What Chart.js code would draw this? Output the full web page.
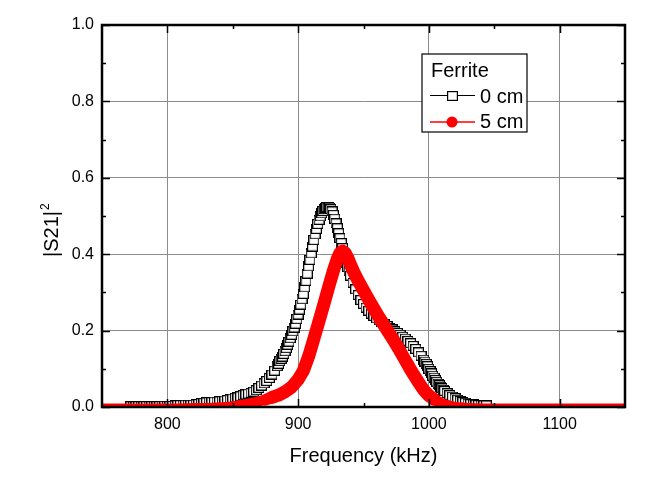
<!DOCTYPE html>
<html>
<head>
<meta charset="utf-8">
<script src="https://cdn.jsdelivr.net/npm/chart.js@4.4.1/dist/chart.umd.min.js"></script>
<style>
  html, body { margin: 0; padding: 0; background: #fff; }
  #wrap { width: 656px; height: 485px; }
</style>
</head>
<body>
<div id="wrap"><canvas id="chart" width="656" height="485"></canvas></div>
<script>
'use strict';

// Ferrite 0 cm (open squares); sampled finer where the curve is steep
var freq0 = [
	772, 774, 776, 778, 780, 782, 784, 786, 788, 790, 792, 794,
	796, 798, 800, 802, 804, 806,
	808, 810, 812, 814, 816, 818, 820, 822, 824,
	826, 828, 830, 832, 834, 836, 838, 840, 842, 844, 846,
	848, 850, 852, 854, 856, 858, 860, 862, 864, 866,
	868, 870, 872, 874, 876, 878, 880, 882, 884,
	885, 886, 887, 888, 889, 890, 891, 892, 893, 894, 895, 896, 897, 898, 899,
	900, 901, 902, 903, 904, 905, 906, 907, 908, 909, 910, 911, 912, 913, 914, 915, 916, 917, 918, 919,
	920, 921, 922, 923, 924, 925, 926, 927, 928, 929, 930, 931, 932, 933, 934, 935, 936, 937, 938, 939,
	940, 942, 944, 946, 948, 950, 952, 954, 956, 958, 960, 962,
	964, 966, 968, 970, 972, 974, 976, 978, 980, 982, 984, 986, 988, 990, 992, 994, 996,
	997, 998, 999, 1000, 1001, 1002, 1003, 1004, 1005, 1006, 1007, 1008, 1009, 1010, 1011,
	1012, 1014, 1016, 1018, 1020, 1022, 1024, 1026, 1028,
	1030, 1032, 1034, 1036, 1038, 1040, 1042, 1044
];
var s21Cm0 = [
	0.002, 0.002, 0.002, 0.002, 0.002, 0.002, 0.002, 0.002, 0.002, 0.002, 0.002, 0.002,
	0.003, 0.003, 0.003, 0.003, 0.003, 0.004,
	0.005, 0.005, 0.005, 0.006, 0.006, 0.006, 0.006, 0.007, 0.008,
	0.010, 0.011, 0.012, 0.013, 0.013, 0.014, 0.014, 0.015, 0.016, 0.017, 0.018,
	0.020, 0.022, 0.024, 0.025, 0.028, 0.031, 0.033, 0.035, 0.037, 0.040,
	0.044, 0.050, 0.056, 0.062, 0.068, 0.076, 0.085, 0.095, 0.107,
	0.113, 0.120, 0.126, 0.132, 0.139, 0.146, 0.154, 0.163, 0.171, 0.180, 0.189, 0.198, 0.208, 0.218, 0.230,
	0.242, 0.255, 0.268, 0.282, 0.296, 0.313, 0.330, 0.349, 0.368, 0.385, 0.402, 0.420, 0.437, 0.452, 0.466, 0.479, 0.490, 0.499, 0.507, 0.513,
	0.518, 0.521, 0.523, 0.523, 0.522, 0.518, 0.512, 0.503, 0.493, 0.481, 0.468, 0.455, 0.442, 0.429, 0.416, 0.403, 0.390, 0.378, 0.366, 0.355,
	0.344, 0.325, 0.308, 0.293, 0.280, 0.270, 0.260, 0.252, 0.244, 0.238, 0.232, 0.227,
	0.222, 0.216, 0.212, 0.207, 0.203, 0.198, 0.194, 0.189, 0.184, 0.179, 0.173, 0.167, 0.160, 0.152, 0.143, 0.134, 0.124,
	0.119, 0.113, 0.107, 0.100, 0.094, 0.088, 0.082, 0.077, 0.071, 0.066, 0.061, 0.057, 0.053, 0.049, 0.045,
	0.042, 0.036, 0.031, 0.027, 0.023, 0.019, 0.016, 0.013, 0.011,
	0.009, 0.008, 0.007, 0.006, 0.005, 0.005, 0.004, 0.004
];

// Ferrite 5 cm (red filled circles)
var freq5 = [
	750, 760, 770, 780, 790, 800, 810, 820, 830, 840, 845, 850, 855, 860, 865, 870, 875, 880, 885, 890, 895,
	900, 904, 908, 912, 916, 920, 924, 927, 930, 932, 934, 936, 938, 940, 943, 946, 950, 954, 957,
	961, 965, 969, 973, 977, 981, 985, 988, 992, 996, 1000, 1004, 1008, 1012, 1016, 1020, 1025, 1030,
	1040, 1050, 1060, 1070, 1080, 1090, 1100, 1110, 1120, 1130, 1140, 1150
];
var s21Cm5 = [
	0.001, 0.001, 0.001, 0.001, 0.001, 0.001, 0.001, 0.002, 0.002, 0.003, 0.004, 0.005, 0.007, 0.009, 0.012, 0.015, 0.019, 0.025, 0.031, 0.040, 0.052,
	0.072, 0.095, 0.132, 0.178, 0.225, 0.273, 0.322, 0.357, 0.388, 0.403, 0.408, 0.403, 0.390, 0.373, 0.350, 0.330, 0.305, 0.281, 0.263,
	0.240, 0.218, 0.196, 0.175, 0.152, 0.128, 0.104, 0.087, 0.065, 0.045, 0.030, 0.020, 0.013, 0.009, 0.006, 0.004, 0.003, 0.002,
	0.001, 0.001, 0.001, 0.001, 0.001, 0.001, 0.001, 0.001, 0.001, 0.001, 0.001, 0.001
];

var xTicks = [800, 900, 1000, 1100];
var xMinorTicks = [850, 950, 1050];
var yTicks = [0, 0.2, 0.4, 0.6, 0.8, 1.0];
var yMinorTicks = [0.1, 0.3, 0.5, 0.7, 0.9];

var FONT = "'Liberation Sans', Arial, sans-serif";
var RED = '#ff0000';

function toPoints(xs, ys) {
	return xs.map(function (x, i) {
		return { x: x, y: ys[i] };
	});
}

// Origin-like open square symbol.
function makeSquare(w, h) {
	var c = document.createElement('canvas');
	c.width = w;
	c.height = h;
	var g = c.getContext('2d');
	g.fillStyle = '#fff';
	g.fillRect(0, 0, w, h);
	g.strokeStyle = '#000';
	g.lineWidth = 1.2;
	g.strokeRect(0.6, 0.6, w - 1.2, h - 1.2);
	return c;
}
var squareMarker = makeSquare(11, 10);

// Frame with inward ticks on all four sides.
var framePlugin = {
	id: 'frame',
	afterDatasetsDraw: function (chart) {
		var ctx = chart.ctx;
		var a = chart.chartArea;
		var x = chart.scales.x;
		var y = chart.scales.y;
		ctx.save();
		ctx.strokeStyle = '#000';
		ctx.lineWidth = 1.5;
		ctx.beginPath();
		xTicks.concat(xMinorTicks).forEach(function (v) {
			var px = Math.round(x.getPixelForValue(v)) + 0.5;
			var len = xTicks.indexOf(v) >= 0 ? 8 : 4;
			ctx.moveTo(px, a.bottom);
			ctx.lineTo(px, a.bottom - len);
			ctx.moveTo(px, a.top);
			ctx.lineTo(px, a.top + len);
		});
		yTicks.concat(yMinorTicks).forEach(function (v) {
			var py = Math.round(y.getPixelForValue(v)) + 0.5;
			var len = yTicks.indexOf(v) >= 0 ? 8 : 4;
			ctx.moveTo(a.left, py);
			ctx.lineTo(a.left + len, py);
			ctx.moveTo(a.right, py);
			ctx.lineTo(a.right - len, py);
		});
		ctx.stroke();
		ctx.lineWidth = 2.5;
		ctx.strokeRect(a.left, a.top, a.right - a.left, a.bottom - a.top);
		ctx.restore();
	},
	afterDraw: function (chart) {
		var ctx = chart.ctx;
		var a = chart.chartArea;
		ctx.save();
		ctx.fillStyle = '#000';

		// Axis titles.
		ctx.font = '20px ' + FONT;
		ctx.textAlign = 'center';
		ctx.textBaseline = 'alphabetic';
		ctx.fillText('Frequency (kHz)', (a.left + a.right) / 2, 462);
		ctx.save();
		ctx.translate(58, 232);
		ctx.rotate(-Math.PI / 2);
		ctx.textAlign = 'left';
		ctx.fillText('|S21|', -25, 0);
		var w = ctx.measureText('|S21|').width;
		ctx.font = '12px ' + FONT;
		ctx.fillText('2', -25 + w + 1, -9);
		ctx.restore();

		// Legend box.
		ctx.font = '20px ' + FONT;
		ctx.fillStyle = '#fff';
		ctx.fillRect(422, 54, 105, 78);
		ctx.strokeStyle = '#000';
		ctx.lineWidth = 1.2;
		ctx.strokeRect(422, 54, 105, 78);
		ctx.fillStyle = '#000';
		ctx.textAlign = 'left';
		ctx.fillText('Ferrite', 431, 77);
		ctx.fillText('0 cm', 480, 103);
		ctx.fillText('5 cm', 480, 128);

		ctx.lineWidth = 1;
		ctx.beginPath();
		ctx.moveTo(430, 95.5);
		ctx.lineTo(475, 95.5);
		ctx.stroke();
		ctx.drawImage(squareMarker, 447, 91);

		ctx.strokeStyle = RED;
		ctx.lineWidth = 1.5;
		ctx.beginPath();
		ctx.moveTo(430, 122);
		ctx.lineTo(475, 122);
		ctx.stroke();
		ctx.fillStyle = RED;
		ctx.beginPath();
		ctx.arc(452, 122, 5.5, 0, Math.PI * 2);
		ctx.fill();
		ctx.restore();
	}
};

new Chart(document.getElementById('chart').getContext('2d'), {
	type: 'scatter',
	data: {
		datasets: [
			{
				label: '0 cm',
				data: toPoints(freq0, s21Cm0),
				showLine: false,
				pointStyle: squareMarker,
				pointRadius: 5,
				order: 2
			},
			{
				label: '5 cm',
				data: toPoints(freq5, s21Cm5),
				showLine: true,
				borderColor: RED,
				borderWidth: 13,
				borderCapStyle: 'round',
				borderJoinStyle: 'round',
				pointRadius: 0,
				tension: 0,
				order: 1,
				segment: {
					// thinner where the curve lies on the axis
					borderWidth: function (ctx) {
						var v = Math.max(ctx.p0.parsed.y, ctx.p1.parsed.y);
						return 6 + 7 * Math.min(1, v / 0.03);
					}
				}
			}
		]
	},
	options: {
		responsive: false,
		animation: false,
		events: [],
		layout: {
			padding: { left: 0, right: 31, top: 25, bottom: 0 }
		},
		plugins: {
			legend: { display: false },
			tooltip: { enabled: false }
		},
		scales: {
			x: {
				type: 'linear',
				min: 750,
				max: 1150,
				afterBuildTicks: function (s) {
					s.ticks = xTicks.map(function (v) { return { value: v }; });
				},
				afterFit: function (s) {
					s.height = 78;
				},
				border: { display: false },
				grid: { color: '#8c8c8c', lineWidth: 1, drawTicks: false },
				ticks: {
					padding: 8,
					color: '#000',
					font: { family: FONT, size: 16 },
					maxRotation: 0,
					callback: function (v) { return String(v); }
				}
			},
			y: {
				type: 'linear',
				min: 0,
				max: 1,
				afterBuildTicks: function (s) {
					s.ticks = yTicks.map(function (v) { return { value: v }; });
				},
				afterFit: function (s) {
					s.width = 102;
				},
				border: { display: false },
				grid: { color: '#8c8c8c', lineWidth: 1, drawTicks: false },
				ticks: {
					padding: 8,
					color: '#000',
					font: { family: FONT, size: 16 },
					callback: function (v) { return v.toFixed(1); }
				}
			}
		}
	},
	plugins: [framePlugin]
});
</script>
</body>
</html>
